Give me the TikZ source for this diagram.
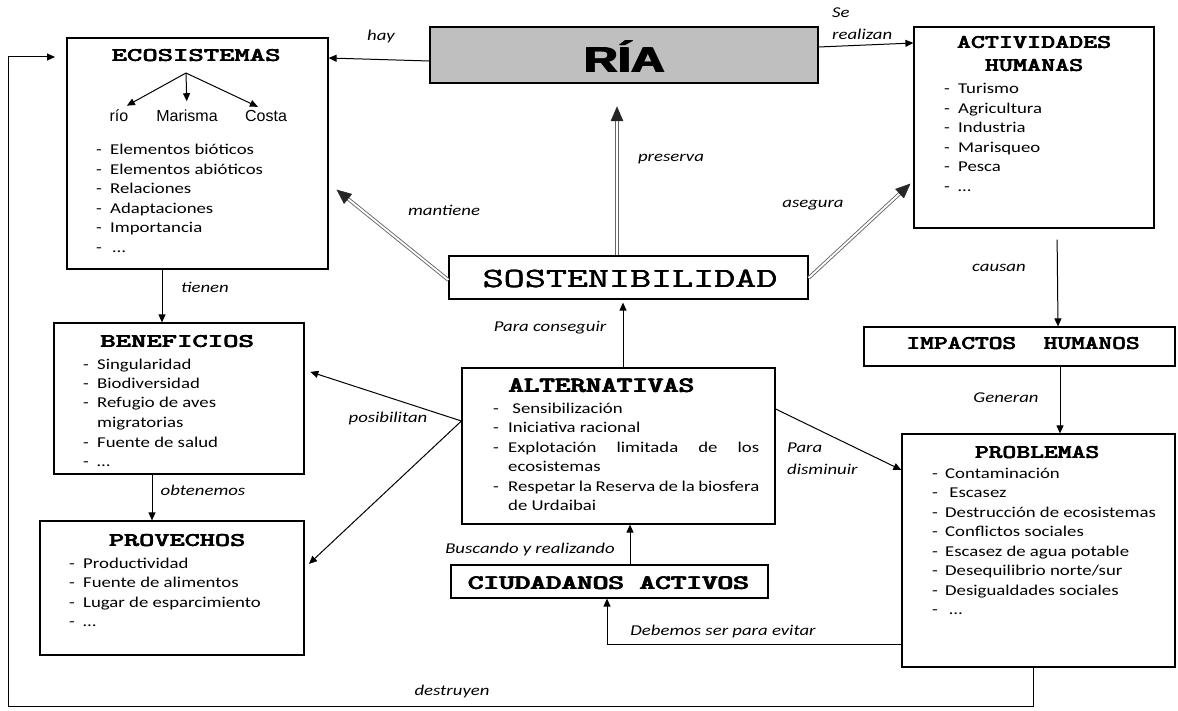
\documentclass[tikz,border=0pt]{standalone}
\usepackage{fontspec}
\usepackage{graphicx}
\usetikzlibrary{arrows.meta,calc}
\newfontfamily\bodyfont{Carlito}[FakeStretch=1.25]
\newfontfamily\arialfont{Liberation Sans}
\newcommand\fb[2]{\makebox[0pt][l]{#2}\makebox[0pt][l]{\kern#1 #2}#2}
\newcommand\ttl[4]{\scalebox{#1}[1]{\fontsize{#2}{#2}\selectfont\ttfamily\bfseries\fb{#3}{#4}}}
\newcommand\dsh{\makebox[14pt][l]{-}}
\begin{document}
\begin{tikzpicture}[x=1pt,y=-1pt,
 box/.style={draw=black, line width=1.2pt, inner sep=0pt},
 arr/.style={draw=black, line width=1pt, -{Triangle[length=8pt,width=7pt]}},
 dbl/.style={draw=black!60, double=white, double distance=1.8pt, line width=0.9pt, shorten >=12pt},
 dtip/.style={fill=black!85, draw=black!85, line width=0.5pt},
 lbl/.style={font=\bodyfont\itshape\fontsize{15}{22}\selectfont, inner sep=0pt},
 lst/.style={font=\bodyfont\fontsize{15}{19.5}\selectfont, inner sep=0pt, anchor=base west},
 tt/.style={inner sep=0pt, anchor=base},
 arl/.style={font=\arialfont\fontsize{16}{19}\selectfont, inner sep=0pt, anchor=base}]
\useasboundingbox (0,0) rectangle (1178,711);

% boxes
\node[box, minimum width=261pt, minimum height=231pt] (eco) at (197.5,153.5) {};
\node[box, fill=black!25, minimum width=388pt, minimum height=56pt] (ria) at (624,55) {};
\node[box, minimum width=240pt, minimum height=201pt] (act) at (1034,127.5) {};
\node[box, minimum width=359pt, minimum height=43pt] (sost) at (628.5,277.5) {};
\node[box, minimum width=250pt, minimum height=151pt] (ben) at (179,398.5) {};
\node[box, minimum width=264pt, minimum height=134pt] (prov) at (172,588) {};
\node[box, minimum width=313pt, minimum height=156pt] (alt) at (618.5,446) {};
\node[box, minimum width=317pt, minimum height=33pt] (ciu) at (609.5,581.5) {};
\node[box, minimum width=311pt, minimum height=39pt] (imp) at (1019.5,346.5) {};
\node[box, minimum width=273pt, minimum height=233pt] (prob) at (1038.5,550.5) {};

% titles
\node[tt] (ecot) at (196,62) {\ttl{1.5}{19.5}{0.4pt}{ECOSISTEMAS}};
\node[tt] (riat) at (624,73) {\scalebox{1.3}[1]{\arialfont\bfseries\fontsize{36}{36}\selectfont\fb{1.2pt}{RÍA}}};
\node[tt] (actt1) at (1034,49) {\ttl{1.37}{19.5}{0.4pt}{ACTIVIDADES}};
\node[tt] (actt2) at (1034,72) {\ttl{1.37}{19.5}{0.4pt}{HUMANAS}};
\node[tt] (sostt) at (630,288) {\scalebox{1.47}[1]{\fontsize{27.8}{28}\selectfont\ttfamily\fb{0.3pt}{SOSTENIBILIDAD}}};
\node[tt] (bent) at (177,348) {\ttl{1.5}{19.5}{0.4pt}{BENEFICIOS}};
\node[tt] (provt) at (177,546) {\ttl{1.48}{19.5}{0.4pt}{PROVECHOS}};
\node[tt] (altt) at (601,392) {\ttl{1.34}{22}{0.8pt}{ALTERNATIVAS}};
\node[tt] (ciut) at (608,589) {\ttl{1.45}{20.5}{0.8pt}{CIUDADANOS ACTIVOS}};
\node[tt] (impt) at (1023,349) {\ttl{1.34}{19.5}{0.4pt}{IMPACTOS\ \ HUMANOS}};
\node[tt] (probt) at (1037,458) {\ttl{1.35}{19.5}{0.4pt}{PROBLEMAS}};

% ecosystem tree
\coordinate (eroot) at (186,73);
\node[arl] (rio) at (119,122) {río};
\node[arl] (mar) at (187,122) {Marisma};
\node[arl] (cos) at (266,122) {Costa};
\draw[arr, shorten >=9pt] (eroot) -- (rio.north);
\draw[arr, shorten >=9pt] (eroot) -- (mar.north);
\draw[arr, shorten >=9pt] (eroot) -- (cos.north);

% lists
\node[lst] (ecol) at (96,155) {\begin{tabular}[t]{@{}l@{}l@{}}
\dsh&Elementos bióticos\\ \dsh&Elementos abióticos\\ \dsh&Relaciones\\ \dsh&Adaptaciones\\ \dsh&Importancia\\ \dsh&\,…\end{tabular}};
\node[lst] (benl) at (83,369) {\begin{tabular}[t]{@{}l@{}l@{}}
\dsh&Singularidad\\ \dsh&Biodiversidad\\ \dsh&Refugio de aves\\ &migratorias\\ \dsh&Fuente de salud\\ \dsh&…\end{tabular}};
\node[lst] (provl) at (69,568) {\begin{tabular}[t]{@{}l@{}l@{}}
\dsh&Productividad\\ \dsh&Fuente de alimentos\\ \dsh&Lugar de esparcimiento\\ \dsh&…\end{tabular}};
\node[lst] (actl) at (944,94) {\begin{tabular}[t]{@{}l@{}l@{}}
\dsh&Turismo\\ \dsh&Agricultura\\ \dsh&Industria\\ \dsh&Marisqueo\\ \dsh&Pesca\\ \dsh&…\end{tabular}};
\node[lst] (altl) at (493,413) {\begin{tabular}[t]{@{}l@{}l@{}}
\makebox[15pt][l]{-}&\ Sensibilización\\ \makebox[15pt][l]{-}&Iniciativa racional\\ \makebox[15pt][l]{-}&\makebox[251pt][s]{Explotación limitada de los}\\ &ecosistemas\\ \makebox[15pt][l]{-}&\makebox[251pt][s]{Respetar la Reserva de la biosfera}\\ &de Urdaibai\end{tabular}};
\node[lst] (probl) at (932,478) {\begin{tabular}[t]{@{}l@{}l@{}}
\makebox[13pt][l]{-}&Contaminación\\ \makebox[13pt][l]{-}&\ Escasez\\ \makebox[13pt][l]{-}&Destrucción de ecosistemas\\ \makebox[13pt][l]{-}&Conflictos sociales\\ \makebox[13pt][l]{-}&Escasez de agua potable\\ \makebox[13pt][l]{-}&Desequilibrio norte/sur\\ \makebox[13pt][l]{-}&Desigualdades sociales\\ \makebox[13pt][l]{-}&\ …\end{tabular}};

% connectors
\coordinate (riatip) at (617,107);
\coordinate (ecotip) at (337,190);
\coordinate (acttip) at (910,184);
\coordinate (ecoin) at (55,57);
\coordinate (sN) at (sost.north -| 617,0);
\coordinate (sW) at (sost.west |- 0,280);
\coordinate (sE) at (sost.east |- 0,278);
\draw[arr] (ria.west |- 0,61) -- (eco.east |- 0,58);
\draw[arr] (ria.east |- 0,47) -- (act.west |- 0,43);
\draw[dbl] (sN) -- (riatip);
\filldraw[dtip] (riatip) -- ($(riatip)!14pt!(sN)!6pt!90:(sN)$) -- ($(riatip)!14pt!(sN)!6pt!-90:(sN)$) -- cycle;
\draw[dbl] (sW) -- (ecotip);
\filldraw[dtip] (ecotip) -- ($(ecotip)!14pt!(sW)!6pt!90:(sW)$) -- ($(ecotip)!14pt!(sW)!6pt!-90:(sW)$) -- cycle;
\draw[dbl] (sE) -- (acttip);
\filldraw[dtip] (acttip) -- ($(acttip)!14pt!(sE)!6pt!90:(sE)$) -- ($(acttip)!14pt!(sE)!6pt!-90:(sE)$) -- cycle;
\draw[arr] (eco.south -| 162,0) -- (ben.north -| 162,0);
\draw[arr] (ben.south -| 152,0) -- (prov.north -| 152,0);
\draw[arr, shorten >=3pt] (alt.north -| 623,0) -- (sost.south -| 623,0);
\draw[arr, shorten >=6pt] (alt.west |- 0,421) -- (ben.east |- 0,370);
\draw[arr, shorten >=6pt] (alt.west |- 0,421) -- (prov.east |- 0,568);
\draw[arr] (alt.east |- 0,409) -- (prob.west |- 0,470);
\draw[arr] (ciu.north -| 630,0) -- (alt.south -| 630,0);
\draw[arr] (prob.west |- 0,644) -| (ciu.south -| 607,0);
\draw[arr] (prob.south -| 1033,0) |- (8,706) |- (ecoin);
\draw[arr, shorten <=11pt] (act.south -| 1057,0) -- (imp.north -| 1058,0);
\draw[arr] (imp.south -| 1060,0) -- (prob.north -| 1060,0);

% labels
\node[lbl] (l1) at (381,37) {hay};
\node[lbl, anchor=west, align=left] (l2) at (832,24) {Se\\realizan};
\node[lbl] (l3) at (671,159) {preserva};
\node[lbl] (l4) at (444,210) {mantiene};
\node[lbl] (l5) at (813,205) {asegura};
\node[lbl] (l6) at (205,287) {tienen};
\node[lbl] (l7) at (203,490) {obtenemos};
\node[lbl] (l8) at (388,418) {posibilitan};
\node[lbl] (l9) at (550,328) {Para conseguir};
\node[lbl, anchor=west, align=left] (l10) at (787,459) {Para\\disminuir};
\node[lbl] (l11) at (999,268) {causan};
\node[lbl] (l12) at (1006,398) {Generan};
\node[lbl] (l13) at (530,549) {Buscando y realizando};
\node[lbl] (l14) at (723,631) {Debemos ser para evitar};
\node[lbl] (l15) at (452,691) {destruyen};
\end{tikzpicture}
\end{document}
